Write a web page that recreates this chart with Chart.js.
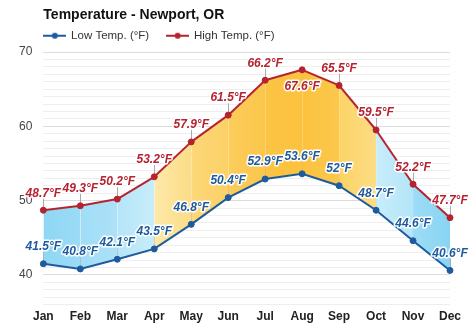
<!DOCTYPE html>
<html><head><meta charset="utf-8">
<script src="https://cdn.jsdelivr.net/npm/chart.js@4"></script>
<style>html,body{margin:0;padding:0;background:#fff}#wrap{width:474px;height:331px;position:relative}</style>
</head><body><div id="wrap"><canvas id="c"></canvas></div>
<script>
const months = ['Jan','Feb','Mar','Apr','May','Jun','Jul','Aug','Sep','Oct','Nov','Dec'];
const lowTemps = [41.5, 40.8, 42.1, 43.5, 46.8, 50.4, 52.9, 53.6, 52, 48.7, 44.6, 40.6];
const highTemps = [48.7, 49.3, 50.2, 53.2, 57.9, 61.5, 66.2, 67.6, 65.5, 59.5, 52.2, 47.7];
const yTickLabels = [40, 50, 60, 70];
const seriesNames = ['Low Temp. (°F)', 'High Temp. (°F)'];

// styles
const LOW_COLOR = '#1d5b9e';
const HIGH_COLOR = '#b52330';
const segFills = [
  ['#8fd7f4','#9bdbf5'], ['#a0ddf6','#ade1f7'], ['#b4e5f8','#c8edfa'],
  ['#fde9aa','#fcdc86'], ['#fcd878','#fcd066'], ['#fccd5c','#fbc64a'],
  ['#fbc443','#fbc23e'], ['#fbc23e','#fbc84c'], ['#fcd365','#fcdd86'],
  ['#c8edfa','#b3e5f8'], ['#9edcf6','#88d4f3']
];
const LEG_PAD = 18;

function legendIcon(color){
  const cv = document.createElement('canvas');
  cv.width = 23; cv.height = 8;
  const g = cv.getContext('2d');
  g.strokeStyle = color; g.lineWidth = 2;
  g.beginPath(); g.moveTo(0,4); g.lineTo(23,4); g.stroke();
  g.fillStyle = color;
  g.beginPath(); g.arc(11.5,4,3,0,Math.PI*2); g.fill();
  return cv;
}
const icons = [legendIcon(LOW_COLOR), legendIcon(HIGH_COLOR)];

const shiftPlugin = {
  id: 'shift',
  beforeInit(chart){
    const lg = chart.legend;
    if (lg) {
      const fit = lg.fit;
      lg.fit = function(){ fit.call(this); this.height = 26; };
    }
  },
  afterLayout(chart){
    const dx = chart.chartArea.left;
    if (chart.titleBlock) { chart.titleBlock.left = dx; }
    if (chart.legend) {
      chart.legend.left = dx - LEG_PAD + 1;
      chart.legend.top = chart.legend.top - (LEG_PAD - 4);
    }
  }
};

const fmt = v => v + '°F';
const labelPlugin = {
  id: 'vlabels',
  beforeDatasetsDraw(chart){
    const c = chart.ctx;
    c.save();
    c.strokeStyle = 'rgba(150,150,150,0.8)';
    c.lineWidth = 1;
    chart.data.datasets.forEach((ds, di) => {
      chart.getDatasetMeta(di).data.forEach((pt) => {
        const below = pt.y - 23 < chart.chartArea.top;
        const x = Math.round(pt.x) + 0.5;
        c.beginPath();
        if (below) { c.moveTo(x, pt.y + 2); c.lineTo(x, pt.y + 12); }
        else { c.moveTo(x, pt.y - 2); c.lineTo(x, pt.y - 12); }
        c.stroke();
      });
    });
    c.restore();
  },
  afterDatasetsDraw(chart){
    const c = chart.ctx;
    c.save();
    c.font = 'italic bold 12px "Liberation Sans", Arial, sans-serif';
    c.textAlign = 'center';
    c.textBaseline = 'middle';
    c.lineJoin = 'round';
    chart.data.datasets.forEach((ds, di) => {
      const col = di === 0 ? LOW_COLOR : HIGH_COLOR;
      chart.getDatasetMeta(di).data.forEach((pt, i) => {
        const below = pt.y - 23 < chart.chartArea.top;
        const y = below ? pt.y + 17 : pt.y - 17;
        const t = fmt(ds.data[i]);
        c.strokeStyle = 'rgba(255,255,255,0.95)';
        c.lineWidth = 3;
        c.strokeText(t, pt.x, y);
        c.fillStyle = col;
        c.fillText(t, pt.x, y);
      });
    });
    c.restore();
  }
};

new Chart(document.getElementById('c'), {
  type: 'line',
  data: {
    labels: months,
    datasets: [
      {
        label: seriesNames[0], data: lowTemps,
        borderColor: LOW_COLOR, backgroundColor: LOW_COLOR,
        pointBackgroundColor: LOW_COLOR, pointBorderColor: LOW_COLOR,
        borderWidth: 2, pointRadius: 3, pointBorderWidth: 1,
        tension: 0, fill: false, clip: false
      },
      {
        label: seriesNames[1], data: highTemps,
        borderColor: HIGH_COLOR, backgroundColor: HIGH_COLOR,
        pointBackgroundColor: HIGH_COLOR, pointBorderColor: HIGH_COLOR,
        borderWidth: 2, pointRadius: 3, pointBorderWidth: 1,
        tension: 0, fill: '-1', clip: false,
        segment: {
          backgroundColor: ctx => {
            const i = ctx.p0DataIndex;
            const g = ctx.chart.ctx.createLinearGradient(ctx.p0.x, 0, ctx.p1.x, 0);
            g.addColorStop(0, segFills[i][0]);
            g.addColorStop(1, segFills[i][1]);
            g.segIndex = i;
            return g;
          }
        }
      }
    ]
  },
  options: {
    responsive: true,
    maintainAspectRatio: false,
    animation: false,
    layout: { padding: { left: 8, right: 24, top: 0, bottom: 2 } },
    scales: {
      x: {
        offset: false,
        grid: { display: false, drawTicks: false },
        border: { display: false },
        ticks: { color: '#222', font: { family: '"Liberation Sans", Arial, sans-serif', size: 12, weight: 'bold' }, padding: 5, maxRotation: 0 }
      },
      y: {
        min: 36, max: 70,
        border: { display: false },
        grid: {
          drawTicks: false,
          color: ctx => (yTickLabels.includes(ctx.tick.value) ? '#dcdcdc' : '#eeeeee'),
          lineWidth: 1
        },
        ticks: {
          stepSize: 1, autoSkip: false, padding: 11,
          color: '#444',
          font: { family: '"Liberation Sans", Arial, sans-serif', size: 12 },
          callback: v => (yTickLabels.includes(v) ? String(v) : '')
        }
      }
    },
    plugins: {
      title: {
        display: true, text: 'Temperature - Newport, OR', align: 'start',
        color: '#111',
        font: { family: '"Liberation Sans", Arial, sans-serif', size: 14, weight: 'bold' },
        padding: { top: 7, bottom: 2.2 }
      },
      legend: {
        display: true, align: 'start',
        labels: {
          usePointStyle: true, pointStyleWidth: 21, padding: LEG_PAD,
          color: '#333',
          font: { family: '"Liberation Sans", Arial, sans-serif', size: 11.5 },
          generateLabels: chart => {
            const items = Chart.defaults.plugins.legend.labels.generateLabels(chart);
            items.forEach((it, k) => { it.pointStyle = icons[k]; });
            return items;
          }
        }
      },
      tooltip: { enabled: false }
    }
  },
  plugins: [shiftPlugin, labelPlugin]
});
</script>
</body></html>
